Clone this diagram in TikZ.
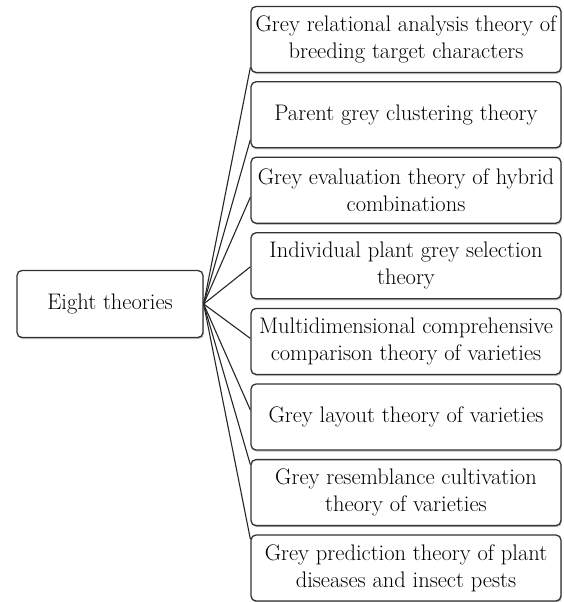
\documentclass[tikz,border=0pt]{standalone}
\usepackage{tikz}
\usetikzlibrary{shadows}

\tikzset{
	theorybox/.style={draw=black!80, line width=1.3pt, rounded corners=5pt, fill=white,
		drop shadow={shadow xshift=0.8pt, shadow yshift=-1.6pt, fill=black!45},
		minimum width=310pt, minimum height=66pt, align=center, inner sep=0pt,
		font=\fontsize{22.5}{27}\selectfont},
	rootbox/.style={theorybox, minimum width=186pt, minimum height=67pt}
}

\begin{document}
\begin{tikzpicture}[x=1pt,y=-1pt]
	\useasboundingbox (0,0) rectangle (563,602);
	\node[rootbox] (root) at (110,304) {Eight theories};
	
	\node[theorybox] (b1) at (406,39.5) {Grey relational analysis theory of\\breeding target characters};
	\node[theorybox] (b2) at (406,114.8) {Parent grey clustering theory};
	\node[theorybox] (b3) at (406,190.2) {Grey evaluation theory of hybrid\\combinations};
	\node[theorybox] (b4) at (406,265.8) {Individual plant grey selection\\theory};
	\node[theorybox] (b5) at (406,341.4) {Multidimensional comprehensive\\comparison theory of varieties};
	\node[theorybox] (b6) at (406,417) {Grey layout theory of varieties};
	\node[theorybox] (b7) at (406,492.6) {Grey resemblance cultivation\\theory of varieties};
	\node[theorybox] (b8) at (406,568) {Grey prediction theory of plant\\diseases and insect pests};
	
	\foreach \i/\d in {1/28, 2/25, 3/7, 4/1, 5/-3, 6/-7, 7/-28, 8/-29}{
		\draw[line width=1.1pt, black!85] (root.east) -- ([yshift=-\d pt]b\i.west);
	}
\end{tikzpicture}
\end{document}
